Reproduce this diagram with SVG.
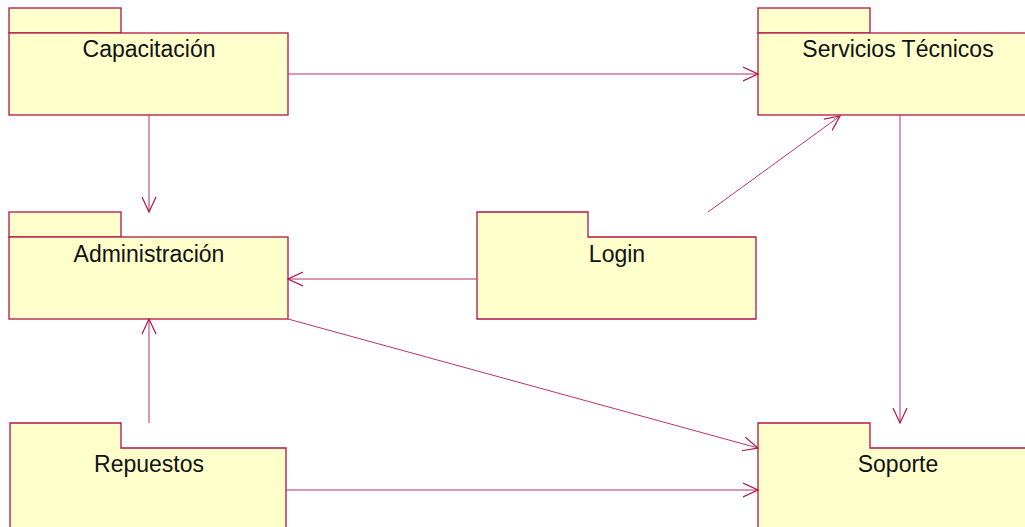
<svg xmlns="http://www.w3.org/2000/svg" width="1025" height="527" viewBox="0 0 1025 527">
<defs>
<style>
.pkg rect,.pkg path{fill:#FFFFCC;stroke:#B0144A;stroke-width:1.3}
.lbl{font-family:"Liberation Sans",Arial,sans-serif;font-size:23px;fill:#111;text-anchor:middle}
.con line{stroke:#B8336A;stroke-width:1}
</style>
<marker id="open" viewBox="0 0 16 16" refX="15" refY="8" markerWidth="16" markerHeight="16" markerUnits="userSpaceOnUse" orient="auto">
<path d="M0,1 L15,8 L0,15" fill="none" stroke="#B0144A" stroke-width="1.2"/>
</marker>
</defs>
<rect width="1025" height="527" fill="#fff"/>
<g id="capacitacion" class="pkg">
<rect x="9" y="8" width="112" height="25"/>
<rect x="9" y="33" width="279" height="82"/>
<text class="lbl" x="149" y="57">Capacitación</text>
</g>
<g id="servicios" class="pkg">
<rect x="758" y="8" width="112" height="25"/>
<rect x="758" y="33" width="280" height="82"/>
<text class="lbl" x="898" y="57">Servicios Técnicos</text>
</g>
<g id="administracion" class="pkg">
<rect x="9" y="212" width="112" height="25"/>
<rect x="9" y="237" width="279" height="82"/>
<text class="lbl" x="149" y="262">Administración</text>
</g>
<g id="login" class="pkg">
<path d="M477,212 H588 V237 H756 V319 H477 Z"/>
<text class="lbl" x="617" y="262">Login</text>
</g>
<g id="repuestos" class="pkg">
<path d="M10,423 H121 V448 H286 V540 H10 Z"/>
<text class="lbl" x="149" y="472">Repuestos</text>
</g>
<g id="soporte" class="pkg">
<path d="M758,423 H870 V448 H1040 V540 H758 Z"/>
<text class="lbl" x="898" y="472">Soporte</text>
</g>
<g id="connectors" class="con">
<line x1="288" y1="74" x2="758" y2="74" marker-end="url(#open)"/>
<line x1="149" y1="115" x2="149" y2="212" marker-end="url(#open)"/>
<line x1="708" y1="212" x2="840" y2="116" marker-end="url(#open)"/>
<line x1="477" y1="279" x2="288" y2="279" marker-end="url(#open)"/>
<line x1="900" y1="115" x2="900" y2="423" marker-end="url(#open)"/>
<line x1="288" y1="319" x2="758" y2="448" marker-end="url(#open)"/>
<line x1="149" y1="423" x2="149" y2="319" marker-end="url(#open)"/>
<line x1="286" y1="490" x2="758" y2="490" marker-end="url(#open)"/>
</g>
</svg>
